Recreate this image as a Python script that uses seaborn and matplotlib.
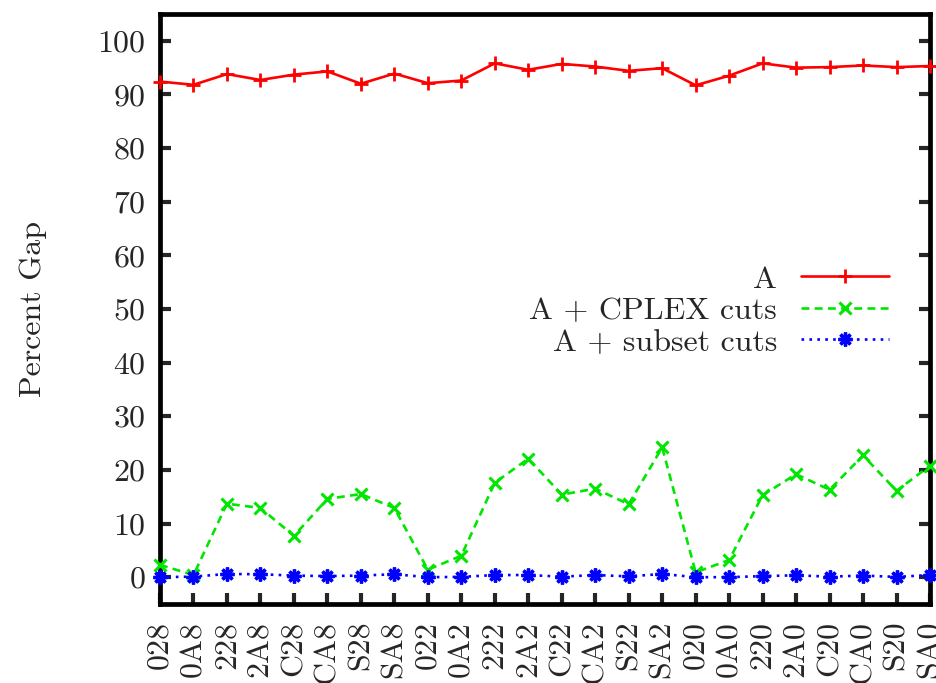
import matplotlib
matplotlib.use("Agg")
import matplotlib.pyplot as plt
import seaborn as sns
import pandas as pd
import numpy as np

# Instance names along the x axis
instances = ["028", "0A8", "228", "2A8", "C28", "CA8", "S28", "SA8",
             "022", "0A2", "222", "2A2", "C22", "CA2", "S22", "SA2",
             "020", "0A0", "220", "2A0", "C20", "CA0", "S20", "SA0"]

# Percent gap for each formulation
gap_a = [92.4, 91.8, 93.8, 92.7, 93.7, 94.3, 92.0, 93.9,
         92.1, 92.6, 95.8, 94.6, 95.7, 95.2, 94.4, 94.9,
         91.7, 93.5, 95.8, 95.0, 95.1, 95.4, 95.1, 95.3]
gap_cplex = [2.3, 0.4, 13.7, 12.9, 7.7, 14.6, 15.5, 12.9,
             1.4, 4.0, 17.6, 22.1, 15.4, 16.5, 13.6, 24.2,
             0.9, 3.2, 15.3, 19.2, 16.3, 22.7, 16.1, 20.8]
gap_subset = [0.0, 0.1, 0.6, 0.55, 0.3, 0.2, 0.3, 0.55,
              0.0, 0.05, 0.4, 0.4, 0.1, 0.4, 0.15, 0.6,
              0.0, 0.0, 0.2, 0.35, 0.1, 0.3, 0.05, 0.4]

series_names = ["A", "A + CPLEX cuts", "A + subset cuts"]

sns.set_style("white")
plt.rcParams["font.family"] = ["cmr10", "DejaVu Serif"]
plt.rcParams["axes.formatter.use_mathtext"] = True
plt.rcParams["mathtext.fontset"] = "cm"

fig = plt.figure(figsize=(9.37, 6.83), dpi=100)
ax = fig.add_axes([160 / 937, 1 - 604 / 683, (930 - 160) / 937, (604 - 14) / 683])

idx = np.arange(len(instances))
df = pd.DataFrame({
    "idx": np.tile(idx, 3),
    "gap": gap_a + gap_cplex + gap_subset,
    "series": np.repeat(series_names, len(instances)),
})

styles = {
    "A": dict(color="#ff0000", ls="-", marker="+", ms=10, mew=2),
    "A + CPLEX cuts": dict(color="#00e600", ls=(0, (3, 2)), marker="x", ms=8, mew=2.2),
    "A + subset cuts": dict(color="#0000ff", ls=(0, (1, 2)), marker=(8, 2, 0), ms=10, mew=2.4),
}
for name in series_names:
    st = styles[name]
    sns.lineplot(data=df[df["series"] == name], x="idx", y="gap", ax=ax,
                 color=st["color"], linestyle=st["ls"], marker=st["marker"],
                 markersize=st["ms"], markeredgewidth=st["mew"],
                 markeredgecolor=st["color"], linewidth=1.9, label=name,
                 clip_on=False, zorder=3)

ax.set_xlim(0, len(instances) - 1)
ax.set_ylim(-5, 105)
ax.set_yticks(np.arange(0, 101, 10))
ax.set_xticks(idx)
ax.set_xticklabels(instances, rotation=90, va="top", ha="center")
ax.set_xlabel("")
ax.set_ylabel("Percent Gap", fontsize=23, labelpad=36)

for side in ["left", "right", "top", "bottom"]:
    ax.spines[side].set_linewidth(3.4)
    ax.spines[side].set_color("black")

ax.tick_params(axis="y", which="both", direction="in", length=8, width=3,
               left=True, right=True, labelsize=23, pad=10)
ax.tick_params(axis="x", which="both", direction="in", length=8, width=3,
               bottom=True, top=False, labelsize=23, pad=12)

leg = ax.legend(loc="upper right", bbox_to_anchor=(0.984, 0.623), frameon=False,
                markerfirst=False, fontsize=23, handlelength=2.75,
                handletextpad=0.75, labelspacing=0.1)

fig.savefig("out.png", dpi=100)
